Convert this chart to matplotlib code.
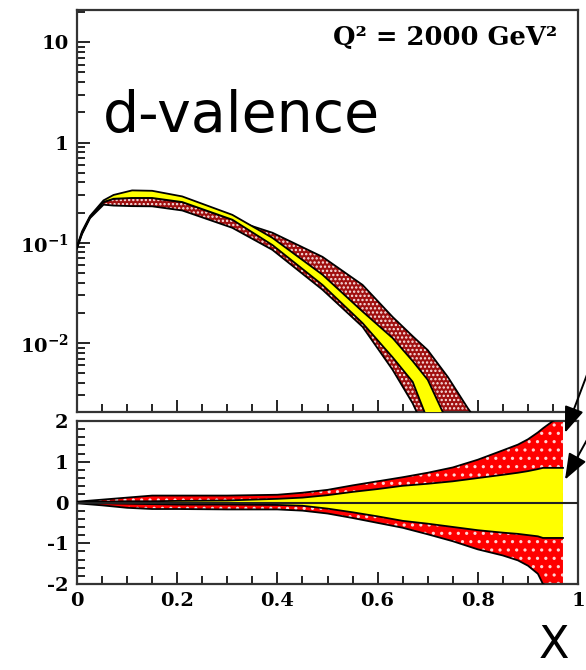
import matplotlib
matplotlib.use("Agg")
import matplotlib.pyplot as plt

plt.rcParams['mathtext.fontset'] = 'dejavuserif'
plt.rcParams['mathtext.default'] = 'bf'
plt.rcParams['hatch.linewidth'] = 1.1

# ---- upper panel: x d_v(x) at Q^2 = 2000 GeV^2 ----
x_up = [0.0, 0.01, 0.026, 0.053, 0.073, 0.11, 0.15, 0.21, 0.31, 0.39,
        0.49, 0.57, 0.63, 0.67, 0.70, 0.74, 0.78, 0.80]
yel_hi = [0.092, 0.13, 0.185, 0.265, 0.30, 0.333, 0.33, 0.29, 0.19, 0.112,
          0.048, 0.0206, 0.0112, 0.0066, 0.0043, 0.0016, 0.0006, 0.0004]
yel_lo = [0.09, 0.125, 0.18, 0.255, 0.275, 0.28, 0.28, 0.255, 0.17, 0.095,
          0.038, 0.0158, 0.0072, 0.0041, 0.0017, 0.0006, 0.0003, 0.0002]
red_hi = [0.09, 0.125, 0.18, 0.255, 0.275, 0.28, 0.28, 0.255, 0.17, 0.126,
          0.0724, 0.038, 0.0182, 0.0117, 0.0085, 0.0046, 0.00224, 0.00162]
red_lo = [0.088, 0.122, 0.176, 0.24, 0.235, 0.232, 0.231, 0.21, 0.141, 0.085,
          0.034, 0.0145, 0.0054, 0.0025, 0.0012, 0.0005, 0.0002, 0.0001]

# ---- lower panel: relative uncertainty ----
x_lo = [0.0, 0.05, 0.1, 0.15, 0.2, 0.3, 0.4, 0.45, 0.5, 0.55, 0.6, 0.65,
        0.7, 0.75, 0.8, 0.85, 0.88, 0.9, 0.92, 0.93, 0.95, 0.97]
r_red_hi = [0.02, 0.07, 0.12, 0.17, 0.17, 0.17, 0.19, 0.24, 0.31, 0.42, 0.52,
            0.62, 0.73, 0.86, 1.05, 1.28, 1.42, 1.55, 1.72, 1.82, 2.0, 2.1]
r_red_lo = [-0.02, -0.07, -0.13, -0.16, -0.16, -0.17, -0.17, -0.2, -0.27,
            -0.38, -0.5, -0.62, -0.78, -0.95, -1.15, -1.3, -1.42, -1.55,
            -1.75, -2.0, -2.1, -2.1]
r_yel_hi = [0.01, 0.02, 0.03, 0.03, 0.04, 0.05, 0.09, 0.12, 0.18, 0.26, 0.33,
            0.41, 0.46, 0.52, 0.6, 0.68, 0.73, 0.77, 0.82, 0.85, 0.85, 0.85]
r_yel_lo = [-0.01, -0.02, -0.03, -0.04, -0.05, -0.05, -0.06, -0.08, -0.15,
            -0.24, -0.34, -0.45, -0.52, -0.6, -0.68, -0.74, -0.77, -0.8,
            -0.83, -0.87, -0.87, -0.87]

y_ticks = [0.01, 0.1, 1, 10]
y_ticklabels = [r'$\mathbf{10^{-2}}$', r'$\mathbf{10^{-1}}$', '1', '10']
x_ticks = [0, 0.2, 0.4, 0.6, 0.8, 1]
x_ticklabels = ['0', '0.2', '0.4', '0.6', '0.8', '1']

tick_font = dict(family='DejaVu Serif', weight='bold', size=14)

fig = plt.figure(figsize=(5.86, 6.70), dpi=100)
W, H = 586.0, 670.0
ax1 = fig.add_axes([77 / W, 1 - 412 / H, 501 / W, 402 / H])
ax2 = fig.add_axes([77 / W, 1 - 584 / H, 501 / W, 163 / H])


def band(ax, x, lo, hi, face, dots, dotcolor='white'):
    ax.fill_between(x, lo, hi, facecolor=face, edgecolor='none', lw=0, zorder=2)
    ax.fill_between(x, lo, hi, facecolor='none', edgecolor=dotcolor, hatch=dots,
                    lw=0, zorder=2.1)
    ax.plot(x, lo, color='black', lw=1.3, zorder=3)
    ax.plot(x, hi, color='black', lw=1.3, zorder=3)


# upper panel
band(ax1, x_up, red_lo, red_hi, '#a01010', '....', '#fbe6e6')
ax1.fill_between(x_up, yel_lo, yel_hi, facecolor='#ffff00', edgecolor='none', zorder=4)
ax1.plot(x_up, yel_lo, color='black', lw=1.3, zorder=5)
ax1.plot(x_up, yel_hi, color='black', lw=1.3, zorder=5)
ax1.set_yscale('log')
ax1.set_ylim(0.00205, 21)
ax1.set_xlim(0, 1)
ax1.set_yticks(y_ticks)
ax1.set_yticklabels(y_ticklabels, fontdict=tick_font)
ax1.set_xticks(x_ticks)
ax1.set_xticklabels([])
ax1.set_xticks([i * 0.05 for i in range(21)], minor=True)
ax1.text(0.052, 0.697, 'd-valence', transform=ax1.transAxes, fontsize=41,
         family='DejaVu Sans', va='baseline', ha='left')
ax1.text(0.958, 0.913, 'Q² = 2000 GeV²', transform=ax1.transAxes, fontsize=18.5,
         family='DejaVu Serif', weight='bold', va='baseline', ha='right')

# lower panel
band(ax2, x_lo, r_red_lo, r_red_hi, '#ff0000', '..', '#ffd6d6')
ax2.fill_between(x_lo, r_yel_lo, r_yel_hi, facecolor='#ffff00', edgecolor='none', zorder=4)
ax2.plot(x_lo, r_yel_lo, color='black', lw=1.3, zorder=5)
ax2.plot(x_lo, r_yel_hi, color='black', lw=1.3, zorder=5)
ax2.axhline(0, color='#222222', lw=1.5, zorder=6)
ax2.set_xlim(0, 1)
ax2.set_ylim(-2, 2)
ax2.set_yticks([-2, -1, 0, 1, 2])
ax2.set_yticklabels(['-2', '-1', '0', '1', '2'], fontdict=tick_font)
ax2.set_yticks([i * 0.2 - 2 for i in range(21)], minor=True)
ax2.set_xticks(x_ticks)
ax2.set_xticklabels(x_ticklabels, fontdict=tick_font)
ax2.set_xticks([i * 0.05 for i in range(21)], minor=True)

for ax in (ax1, ax2):
    ax.tick_params(which='both', direction='in', top=False, right=False,
                   width=1.2, color='black')
    ax.tick_params(which='major', length=9, pad=6)
    ax.tick_params(which='minor', length=5.5)
    for s in ax.spines.values():
        s.set_linewidth(1.6)
        s.set_color('#333333')

fig.text(554 / W, 1 - 645 / H, 'X', fontsize=32, family='DejaVu Sans',
         ha='center', va='center')

arrow = dict(arrowstyle='-|>,head_length=0.8,head_width=0.3', color='black',
             lw=1.4, mutation_scale=20, shrinkA=0, shrinkB=0)
ax2.annotate('', xy=(0.974, 1.71), xycoords='data', xytext=(588, H - 372),
             textcoords='figure pixels', arrowprops=arrow, annotation_clip=False)
ax2.annotate('', xy=(0.974, 0.56), xycoords='data', xytext=(588, H - 438),
             textcoords='figure pixels', arrowprops=arrow, annotation_clip=False)

fig.savefig('out.png', dpi=100)
